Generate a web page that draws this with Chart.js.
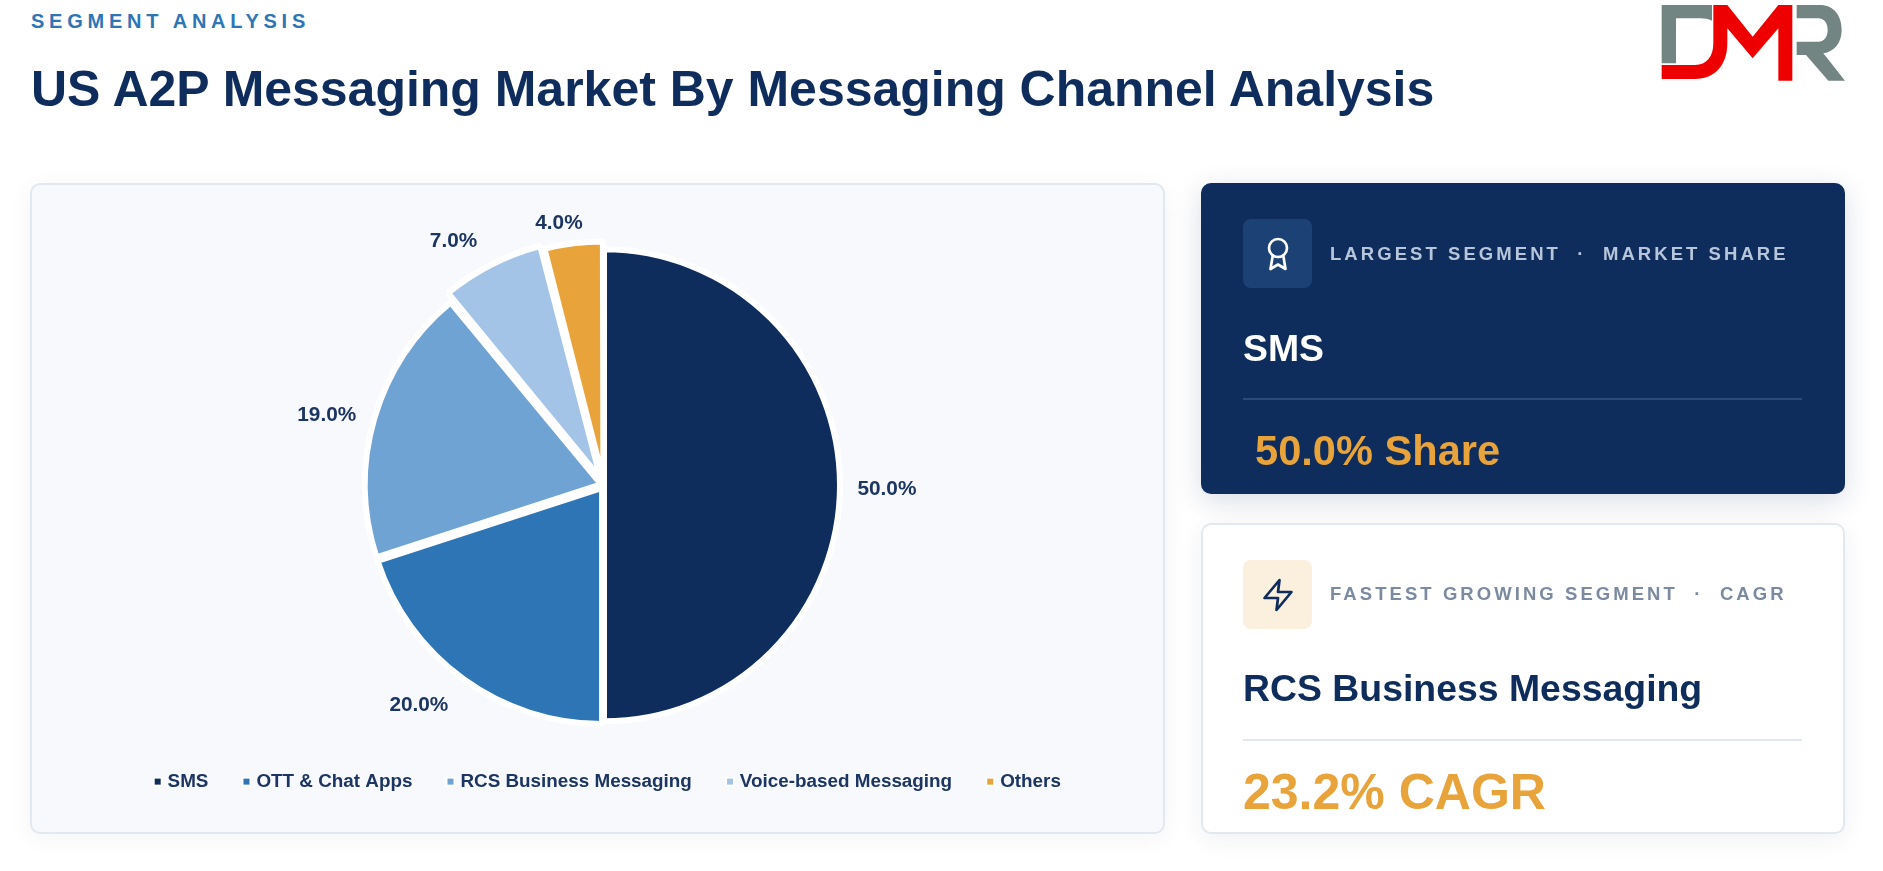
<!DOCTYPE html>
<html>
<head>
<meta charset="utf-8">
<title>US A2P Messaging Market By Messaging Channel Analysis</title>
<script src="https://cdn.jsdelivr.net/npm/chart.js@4/dist/chart.umd.min.js"></script>
<style>
html, body { margin: 0; padding: 0; background: #fff; width: 1883px; height: 871px; overflow: hidden; font-family: "Liberation Sans", Arial, sans-serif; }
.abs { position: absolute; white-space: nowrap; }
#eyebrow { left: 31px; top: 10px; font-size: 20px; line-height: 23px; font-weight: 700; letter-spacing: 4.75px; color: #2e75b6; }
#title { left: 31px; top: 61px; font-size: 49.97px; line-height: 57px; font-weight: 700; color: #0f2d5c; }
#logo { left: 1640px; top: 0; width: 243px; height: 100px; }
.card { position: absolute; box-sizing: border-box; border-radius: 10px; }
#chartCard { left: 30px; top: 183px; width: 1135px; height: 651px; background: #f7f9fc; border: 2px solid #e2e8f0; box-shadow: 0 5px 24px rgba(15,45,92,.05); }
#topCard { left: 1201px; top: 183px; width: 644px; height: 311px; background: #0f2d5c; box-shadow: 0 7px 28px rgba(15,45,92,.16); }
#bottomCard { left: 1201px; top: 523px; width: 644px; height: 311px; background: #fff; border: 2px solid #e2e8f0; box-shadow: 0 5px 24px rgba(15,45,92,.07); }
#pie { position: absolute; left: 46px; top: 190px; }
.icon { position: absolute; left: 1243px; width: 69px; height: 69px; border-radius: 8px; display: flex; align-items: center; justify-content: center; }
.label { font-size: 18.5px; line-height: 22px; font-weight: 700; letter-spacing: 3.06px; white-space: pre; }
.rule { position: absolute; left: 1243px; width: 559px; height: 2px; }
</style>
</head>
<body>
<div class="abs" id="eyebrow">SEGMENT ANALYSIS</div>
<div class="abs" id="title">US A2P Messaging Market By Messaging Channel Analysis</div>
<svg class="abs" id="logo" viewBox="0 0 729 300">
	<path fill="#738583" d="M65 15H216V62C205 57 195 55 180 55H108V190H65Z"/>
	<path fill="#ee0000" d="M220 15H262L338 110L415 15H457V242H415V85L338 175L262 85V130C262 195 225 237 165 237H65V195H165C200 195 220 170 220 130Z"/>
	<path fill="#738583" d="M470 15H540C580 15 605 45 605 90C605 130 582 155 550 160L615 242H565L498 165H470V125H535C553 125 563 110 563 90C563 70 553 55 535 55H470Z"/>
</svg>

<div class="card" id="chartCard"></div>
<canvas id="pie" width="1116" height="637"></canvas>

<div class="card" id="topCard"></div>
<div class="icon" style="top:219px;background:#1c4275">
	<svg width="36" height="36" viewBox="0 0 24 24" fill="none" stroke="#fff" stroke-width="1.8" stroke-linecap="round" stroke-linejoin="round"><circle cx="12" cy="8" r="6"/><path d="M15.477 12.89 17 22l-5-3-5 3 1.523-9.11"/></svg>
</div>
<div class="abs label" style="left:1330px;top:243px;color:#b8c6dc">LARGEST SEGMENT  ·  MARKET SHARE</div>
<div class="abs" style="left:1243px;top:327px;font-size:37.4px;line-height:43px;font-weight:700;color:#fff">SMS</div>
<div class="rule" style="top:398px;background:#2a4a7a"></div>
<div class="abs" style="left:1255px;top:427px;font-size:41.6px;line-height:47px;font-weight:700;color:#e8a33b">50.0% Share</div>

<div class="card" id="bottomCard"></div>
<div class="icon" style="top:560px;background:#fbefdd">
	<svg width="36" height="36" viewBox="0 0 24 24" fill="none" stroke="#0f2d5c" stroke-width="1.8" stroke-linecap="round" stroke-linejoin="round"><polygon points="13 2 3 14 12 14 11 22 21 10 12 10 13 2"/></svg>
</div>
<div class="abs label" style="left:1330px;top:583px;color:#7a8aa0">FASTEST GROWING SEGMENT  ·  CAGR</div>
<div class="abs" style="left:1243px;top:667px;font-size:37.4px;line-height:43px;font-weight:700;color:#0f2d5c">RCS Business Messaging</div>
<div class="rule" style="top:739px;background:#e2e8f0"></div>
<div class="abs" style="left:1243px;top:764px;font-size:50px;line-height:57px;font-weight:700;color:#e8a33b">23.2% CAGR</div>

<script>
const channels = ["SMS", "OTT & Chat Apps", "RCS Business Messaging", "Voice-based Messaging", "Others"];
const shares = [50, 20, 19, 7, 4];
const colors = ["#0f2d5c", "#2e75b6", "#6fa3d4", "#a3c4e6", "#e8a33b"];
const pulls = [0, 13, 12, 30, 18];
// small moves so the labels at the top do not run into each other
const labelNudges = [[-4.6, 3.5], [-4, 1.5], [0, 11.5], [-9.6, -4.5], [11, 3.5]];

// legend marker: coloured square with a thin white edge
function makeSwatch(color) {
	const c = document.createElement("canvas");
	c.width = 10;
	c.height = 10;
	const g = c.getContext("2d");
	g.fillStyle = "#ffffff";
	g.fillRect(0, 0, 10, 10);
	g.fillStyle = color;
	g.fillRect(2, 2, 6, 6);
	return c;
}

const pieLabels = {
	id: 'pieLabels',
	afterLayout(chart) {
		// the legend sits a little right of the pie centre
		chart.legend.left += 5;
		chart.legend.right += 5;
	},
	afterDatasetsDraw(chart) {
		const ctx = chart.ctx;
		const arcs = chart.getDatasetMeta(0).data;
		ctx.save();
		ctx.font = "bold 20.8px 'Liberation Sans', Arial, sans-serif";
		ctx.fillStyle = "#1c3563";
		ctx.textAlign = "center";
		ctx.textBaseline = "middle";
		arcs.forEach(function (arc, i) {
			const text = shares[i].toFixed(1) + "%";
			const mid = (arc.startAngle + arc.endAngle) / 2;
			const vx = Math.cos(mid);
			const vy = Math.sin(mid);
			const w = ctx.measureText(text).width;
			const x = arc.x + vx * (arc.outerRadius + 22) + Math.sign(vx) * w / 2 + labelNudges[i][0];
			const y = arc.y + vy * (arc.outerRadius + 22) + (Math.abs(vy) > 0.01 ? Math.sign(vy) * 10 : 0) + labelNudges[i][1];
			ctx.fillText(text, x, y);
		});
		ctx.restore();
	}
};

new Chart(document.getElementById("pie"), {
	type: 'pie',
	data: {
		labels: channels,
		datasets: [{
			data: shares,
			backgroundColor: colors,
			borderColor: "#ffffff",
			borderWidth: 6,
			offset: pulls,
			radius: 236
		}]
	},
	options: {
		responsive: false,
		animation: false,
		devicePixelRatio: 1,
		layout: { padding: { top: 46, bottom: 26 } },
		plugins: {
			tooltip: { enabled: false },
			legend: {
				position: 'bottom',
				labels: {
					usePointStyle: true,
					boxWidth: 1,
					boxHeight: 1,
					padding: 37.6,
					color: "#1c3563",
					font: { family: "'Liberation Sans', Arial, sans-serif", size: 18.85, weight: 'bold' },
					generateLabels(chart) {
						const items = Chart.overrides.pie.plugins.legend.labels.generateLabels(chart);
						items.forEach(function (item, i) {
							item.pointStyle = makeSwatch(colors[i]);
							item.lineWidth = 0;
						});
						return items;
					}
				}
			}
		}
	},
	plugins: [pieLabels]
});
</script>
</body>
</html>
